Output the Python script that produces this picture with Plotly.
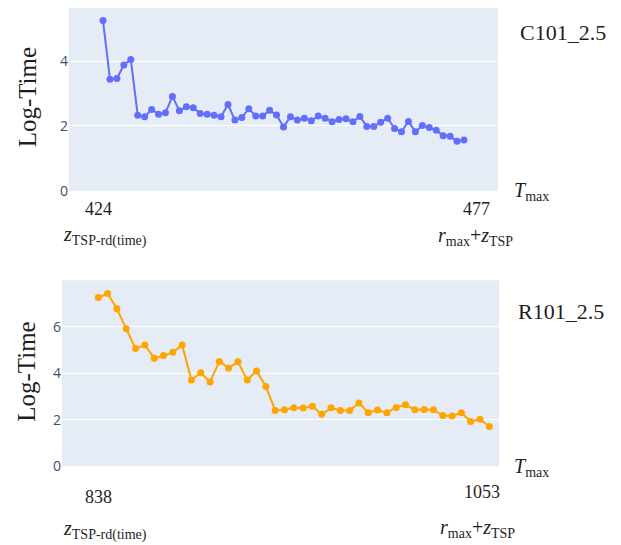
import plotly.graph_objects as go

W, H = 621, 545

# ---------------- data ----------------
c101_tmax = list(range(424, 477))  # 53 points, 424..476
c101_logtime = [5.25, 3.44, 3.46, 3.88, 4.05, 2.33, 2.28, 2.51, 2.36, 2.41,
                2.91, 2.47, 2.59, 2.56, 2.38, 2.36, 2.33, 2.28, 2.66, 2.18,
                2.26, 2.53, 2.31, 2.31, 2.48, 2.34, 1.97, 2.28, 2.18, 2.24,
                2.16, 2.31, 2.24, 2.13, 2.20, 2.22, 2.13, 2.29, 1.98, 1.98,
                2.11, 2.24, 1.92, 1.82, 2.14, 1.82, 2.01, 1.95, 1.87, 1.70,
                1.68, 1.53, 1.57]

r101_tmax = list(range(838, 1049, 5))  # 43 points, 838..1048
r101_logtime = [7.26, 7.43, 6.77, 5.91, 5.06, 5.22, 4.65, 4.76, 4.90, 5.22,
                3.71, 4.02, 3.62, 4.51, 4.23, 4.49, 3.71, 4.10, 3.43, 2.40,
                2.43, 2.51, 2.50, 2.58, 2.23, 2.51, 2.40, 2.40, 2.72, 2.30,
                2.42, 2.30, 2.53, 2.64, 2.43, 2.44, 2.43, 2.18, 2.16, 2.30,
                1.92, 2.02, 1.71]

c101_ticks = ["424", "477"]
r101_ticks = ["838", "1053"]
y_ticks_top = [0, 2, 4]
y_ticks_bottom = [0, 2, 4, 6]
instance_names = ["C101_2.5", "R101_2.5"]

# ---------------- layout helpers ----------------
def px(x):
    return x / W

def py(y):
    return 1 - y / H

SERIF = "Liberation Serif, Times New Roman, serif"
TICKC = "#3b4f73"

fig = go.Figure()
fig.add_trace(go.Scatter(x=c101_tmax, y=c101_logtime, mode="lines+markers",
                         line=dict(color="#636efa", width=2),
                         marker=dict(size=7), xaxis="x", yaxis="y",
                         showlegend=False))
fig.add_trace(go.Scatter(x=r101_tmax, y=r101_logtime, mode="lines+markers",
                         line=dict(color="#ffa500", width=2),
                         marker=dict(size=7), xaxis="x2", yaxis="y2",
                         showlegend=False))

fig.update_layout(
    template="plotly",
    width=W, height=H,
    margin=dict(l=0, r=0, t=0, b=0),
    paper_bgcolor="white",
    xaxis=dict(domain=[px(69), px(498)], anchor="y", range=[419.1, 480.9],
               showticklabels=False, showgrid=False, zeroline=False),
    yaxis=dict(domain=[py(194), py(8)], anchor="x", range=[0, 5.64],
               tickvals=y_ticks_top, zeroline=False,
               tickfont=dict(size=14, color=TICKC)),
    xaxis2=dict(domain=[px(62), px(499)], anchor="y2", range=[818.5, 1053.2],
                showticklabels=False, showgrid=False, zeroline=False),
    yaxis2=dict(domain=[py(474), py(285)], anchor="x2", range=[0, 8.0],
                tickvals=y_ticks_bottom, zeroline=False,
                tickfont=dict(size=14, color=TICKC)),
)

def ann(text, x, y, size, angle=0):
    fig.add_annotation(text=text, x=px(x), y=py(y), xref="paper", yref="paper",
                       showarrow=False, xanchor="center", yanchor="middle",
                       textangle=angle, font=dict(family=SERIF, size=size, color="#1e1e1e"))

zlab = "<i>z</i><sub>TSP-rd(time)</sub>"
rlab = "<i>r</i><sub>max</sub>+<i>z</i><sub>TSP</sub>"
tlab = "<i>T</i><sub>max</sub>"

# top panel
ann(c101_ticks[0], 99, 213, 18)
ann(c101_ticks[1], 476, 213, 18)
ann(zlab, 105, 240, 20)
ann(rlab, 475, 240, 20)
ann(tlab, 531, 195, 20)
ann(instance_names[0], 563, 33, 22)
ann("Log-Time", 27, 99, 25, -90)

# bottom panel
ann(r101_ticks[0], 98, 505, 18)
ann(r101_ticks[1], 482, 500, 18)
ann(zlab, 105, 539, 20)
ann(rlab, 477, 537, 20)
ann(tlab, 531, 475, 20)
ann(instance_names[1], 561, 317, 22)
ann("Log-Time", 27, 378, 25, -90)

fig.write_html("out.html", config={"displayModeBar": False},
               post_script="document.body.style.margin='0';")
